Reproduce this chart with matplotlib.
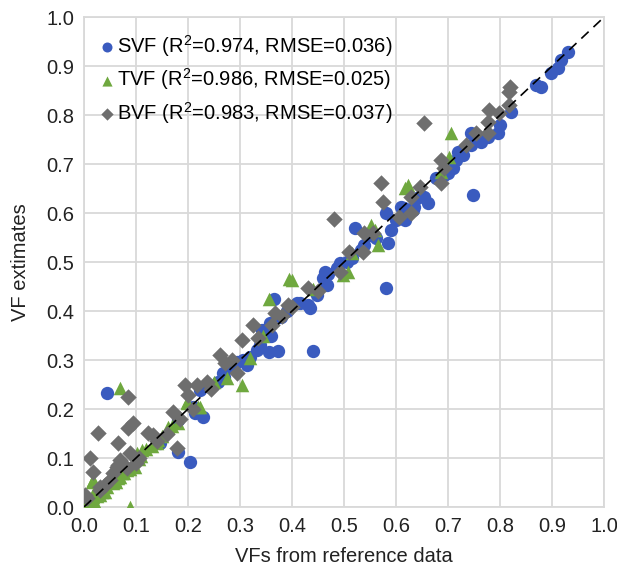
import matplotlib
matplotlib.use("Agg")
import matplotlib.pyplot as plt
import numpy as np

plt.rcParams['font.family'] = ['Liberation Sans', 'DejaVu Sans']
plt.rcParams['mathtext.fontset'] = 'custom'
plt.rcParams['mathtext.rm'] = 'Liberation Sans'
plt.rcParams['mathtext.it'] = 'Liberation Sans'
plt.rcParams['mathtext.default'] = 'rm'

# sky view factor (reference, estimate)
svf_ref = [0.044, 0.146, 0.181, 0.204, 0.181, 0.214, 0.229, 0.21, 0.224, 0.243, 0.258, 0.268,
           0.281, 0.295, 0.314, 0.32, 0.333, 0.339, 0.355, 0.374, 0.343, 0.358, 0.378, 0.41,
           0.43, 0.416, 0.435, 0.441, 0.449, 0.468, 0.46, 0.464, 0.487, 0.493, 0.516, 0.522,
           0.532, 0.538, 0.561, 0.584, 0.59, 0.58, 0.58, 0.609, 0.618, 0.632, 0.615, 0.634,
           0.661, 0.653, 0.676, 0.692, 0.70, 0.709, 0.715, 0.728, 0.744, 0.744, 0.749, 0.763,
           0.776, 0.796, 0.80, 0.821, 0.869, 0.879, 0.898, 0.911, 0.917, 0.931, 0.305, 0.27,
           0.36, 0.47, 0.505, 0.55, 0.60, 0.64, 0.72, 0.76, 0.365, 0.39]
svf_est = [0.233, 0.131, 0.112, 0.092, 0.178, 0.192, 0.184, 0.204, 0.239, 0.245, 0.255, 0.273,
           0.286, 0.296, 0.29, 0.306, 0.32, 0.331, 0.316, 0.318, 0.361, 0.375, 0.388, 0.416,
           0.412, 0.416, 0.406, 0.318, 0.433, 0.453, 0.467, 0.48, 0.488, 0.498, 0.508, 0.569,
           0.524, 0.535, 0.549, 0.539, 0.565, 0.60, 0.447, 0.612, 0.586, 0.606, 0.61, 0.612,
           0.62, 0.633, 0.671, 0.678, 0.682, 0.692, 0.708, 0.718, 0.763, 0.739, 0.637, 0.745,
           0.755, 0.763, 0.78, 0.806, 0.861, 0.857, 0.886, 0.896, 0.912, 0.929, 0.30, 0.265,
           0.35, 0.475, 0.50, 0.555, 0.585, 0.63, 0.725, 0.75, 0.425, 0.40]

# tree view factor
tvf_ref = [0.0, 0.0, 0.012, 0.017, 0.021, 0.015, 0.017, 0.037, 0.044, 0.05, 0.073, 0.083,
           0.094, 0.098, 0.102, 0.112, 0.143, 0.162, 0.198, 0.22, 0.089, 0.069, 0.005, 0.008,
           0.025, 0.03, 0.055, 0.06, 0.065, 0.078, 0.12, 0.13, 0.15, 0.17, 0.18, 0.198, 0.224,
           0.275, 0.304, 0.32, 0.355, 0.395, 0.40, 0.499, 0.507, 0.516, 0.551, 0.566, 0.618,
           0.624, 0.686, 0.701, 0.705, 0.045, 0.035, 0.11, 0.25, 0.345, 0.44, 0.56,
           0.01, 0.02, 0.04, 0.062, 0.07, 0.088, 0.105, 0.14]
tvf_est = [0.0, 0.004, 0.008, 0.02, 0.035, 0.051, 0.055, 0.035, 0.051, 0.059, 0.069, 0.076,
           0.086, 0.082, 0.11, 0.116, 0.137, 0.163, 0.212, 0.204, 0.0, 0.243, 0.003, 0.006,
           0.022, 0.025, 0.05, 0.056, 0.06, 0.07, 0.118, 0.125, 0.145, 0.165, 0.172, 0.214,
           0.204, 0.263, 0.249, 0.304, 0.424, 0.465, 0.463, 0.473, 0.48, 0.518, 0.576, 0.535,
           0.651, 0.657, 0.684, 0.715, 0.763, 0.04, 0.03, 0.105, 0.255, 0.35, 0.445, 0.565,
           0.0, 0.012, 0.03, 0.052, 0.062, 0.078, 0.098, 0.13]

# building view factor
bvf_ref = [0.002, 0.006, 0.012, 0.017, 0.027, 0.031, 0.056, 0.064, 0.066, 0.066, 0.069, 0.083,
           0.085, 0.085, 0.089, 0.094, 0.123, 0.133, 0.171, 0.179, 0.195, 0.2, 0.218, 0.237,
           0.262, 0.272, 0.295, 0.304, 0.326, 0.362, 0.368, 0.393, 0.40, 0.43, 0.48, 0.493,
           0.536, 0.538, 0.572, 0.575, 0.605, 0.628, 0.628, 0.647, 0.653, 0.686, 0.686, 0.692,
           0.753, 0.776, 0.776, 0.778, 0.798, 0.817, 0.817, 0.82, 0.04, 0.1, 0.105, 0.14, 0.16,
           0.185, 0.21, 0.245, 0.285, 0.335, 0.38, 0.45, 0.51, 0.555, 0.735, 0.03, 0.05]
bvf_est = [0.024, 0.018, 0.1, 0.071, 0.151, 0.041, 0.069, 0.082, 0.131, 0.086, 0.096, 0.08,
           0.225, 0.161, 0.11, 0.171, 0.151, 0.147, 0.194, 0.12, 0.249, 0.229, 0.249, 0.255,
           0.31, 0.294, 0.273, 0.341, 0.371, 0.371, 0.396, 0.412, 0.408, 0.447, 0.588, 0.48,
           0.52, 0.559, 0.661, 0.622, 0.592, 0.60, 0.633, 0.653, 0.784, 0.708, 0.661, 0.692,
           0.763, 0.786, 0.763, 0.81, 0.804, 0.82, 0.847, 0.857, 0.045, 0.09, 0.1, 0.135, 0.15,
           0.18, 0.2, 0.24, 0.3, 0.345, 0.39, 0.44, 0.52, 0.56, 0.74, 0.035, 0.055]

labels = ['SVF (R$^2$=0.974, RMSE=0.036)',
          'TVF (R$^2$=0.986, RMSE=0.025)',
          'BVF (R$^2$=0.983, RMSE=0.037)']

fig = plt.figure(figsize=(6.17, 5.71), dpi=100)
ax = fig.add_axes([0.136, 0.112, 0.843, 0.858])

ax.scatter(svf_ref, svf_est, s=92, marker='o', color='#3A5BBF', linewidths=0, label=labels[0], zorder=3)
ax.scatter(tvf_ref, tvf_est, s=95, marker='^', color='#6FA83F', linewidths=0, label=labels[1], zorder=4)
ax.scatter(bvf_ref, bvf_est, s=70, marker='D', color='#6E6E6E', linewidths=0, label=labels[2], zorder=5)

ax.plot([0, 1], [0, 1], color='black', linestyle=(0, (6, 4)), linewidth=1.2, zorder=6)

ax.set_xlim(0, 1)
ax.set_ylim(0, 1)
ticks = np.arange(0, 1.01, 0.1)
ax.set_xticks(ticks)
ax.set_yticks(ticks)
ax.set_xticklabels(['%.1f' % t for t in ticks])
ax.set_yticklabels(['%.1f' % t for t in ticks])
ax.tick_params(length=0, labelsize=14.5, pad=7, colors='#222222')
ax.grid(True, color='#D9D9D9', linewidth=1.3, zorder=0)
ax.set_axisbelow(True)
for sp in ax.spines.values():
    sp.set_color('#D9D9D9')
    sp.set_linewidth(1.3)

ax.set_xlabel('VFs from reference data', fontsize=14.5, labelpad=8, color='#222222')
ax.set_ylabel('VF extimates', fontsize=14.5, labelpad=12, color='#222222')

leg = ax.legend(loc='upper left', bbox_to_anchor=(0.005, 0.997), frameon=False, fontsize=14.5,
                handlelength=0.6, handletextpad=0.2, labelspacing=0.38, markerscale=0.75,
                borderaxespad=0.3)

fig.savefig('out.png', dpi=100)
